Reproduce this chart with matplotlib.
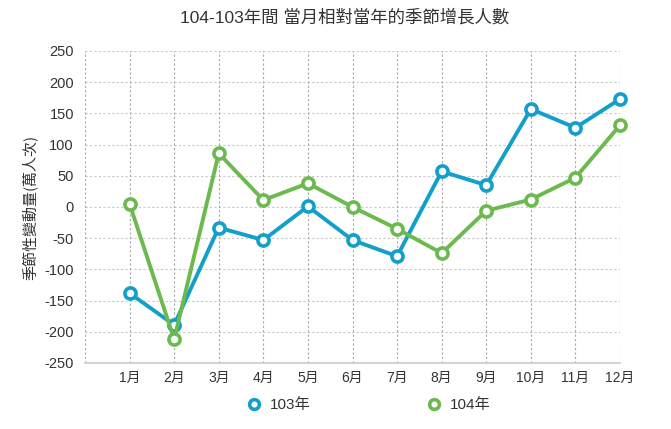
import matplotlib
matplotlib.use("Agg")
import matplotlib.pyplot as plt
from matplotlib.lines import Line2D

plt.rcParams['font.family'] = ['Liberation Sans', 'Noto Sans CJK TC', 'DejaVu Sans']

months = ['1月', '2月', '3月', '4月', '5月', '6月', '7月', '8月', '9月', '10月', '11月', '12月']
s103 = [-138, -189, -33, -53, 1, -53, -79, 57, 35, 157, 127, 173]
s104 = [5, -212, 86, 11, 38, 0, -35, -74, -6, 12, 47, 131]
series_names = ['103年', '104年']
colors = ['#139fcb', '#6cb94f']
yticks = [-250, -200, -150, -100, -50, 0, 50, 100, 150, 200, 250]

fig = plt.figure(figsize=(6.71, 4.29), dpi=100)
ax = fig.add_axes([85/671, 1-363/429, (620-85)/671, (363-51)/429])

x = list(range(1, len(months)+1))
for vals, c, name in zip([s103, s104], colors, series_names):
    ax.plot(x, vals, color=c, lw=2.8, marker='o', ms=8, mfc='white', mec=c, mew=2.6,
            label=name, zorder=3, clip_on=False)

ax.set_xlim(0, 12)
ax.set_ylim(-250, 250)
ax.set_yticks(yticks)
ax.set_yticklabels([str(v) for v in yticks])
ax.set_xticks(x)
ax.set_xticklabels(months)
ax.tick_params(axis='both', length=0, labelsize=10.5, colors='#333333')
ax.tick_params(axis='y', pad=8)
ax.tick_params(axis='x', labelsize=10, pad=6)

for v in yticks:
    ax.axhline(v, color='#c8c8c8', lw=0.8, ls=(0, (2, 2)), zorder=1)
for xi in [0] + x:
    ax.axvline(xi, color='#a8a8a8', lw=0.8, ls=(0, (2, 2)), zorder=1)

for s in ['top', 'right', 'left']:
    ax.spines[s].set_visible(False)
ax.spines['bottom'].set_color('#cccccc')
ax.spines['bottom'].set_linewidth(1.2)

ax.set_ylabel('季節性變動量(萬人次)', fontsize=10.8, color='#333333',
              family=['Noto Sans CJK TC', 'DejaVu Sans'])
ax.yaxis.set_label_coords(-0.103, 0.5)
ax.yaxis.label.set_va('center')
fig.text(0.514, 1-17/429, '104-103年間 當月相對當年的季節增長人數', ha='center', va='center',
         fontsize=12.5, color='#333333')

handles = [Line2D([], [], color='none', marker='o', ms=7, mfc='white', mec=c, mew=2.6) for c in colors]
fig.legend(handles, series_names, loc='center', bbox_to_anchor=(0.548, 1-405/429), ncol=2,
           frameon=False, fontsize=11, columnspacing=7.5, handletextpad=0.4, handlelength=1.2,
           labelcolor='#333333')

fig.savefig('out.png', dpi=100)
